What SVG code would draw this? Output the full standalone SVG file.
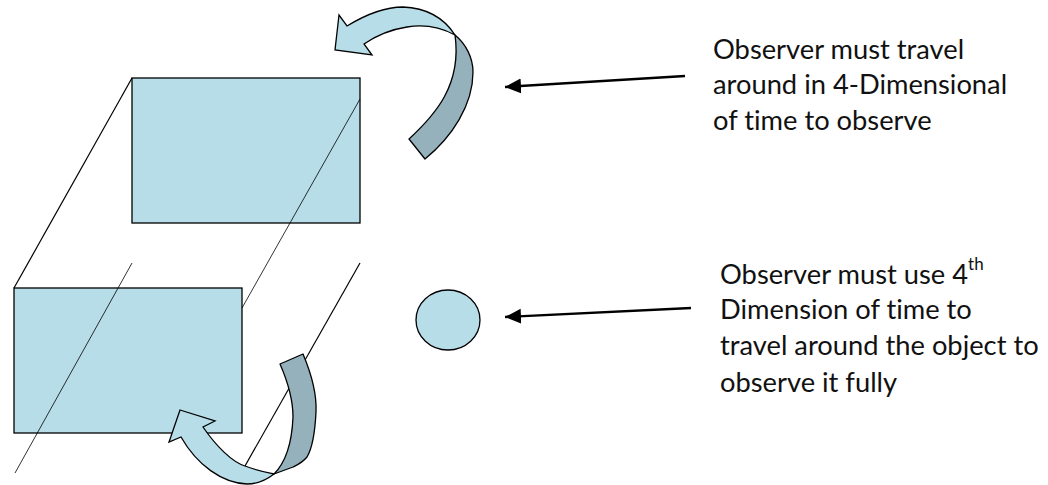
<svg xmlns="http://www.w3.org/2000/svg" width="1048" height="485" viewBox="0 0 1048 485">
<style>
.f{fill:#b7dde8;stroke:#000;stroke-width:1.3}
.d{fill:#95b2bc;stroke:#000;stroke-width:1.3;stroke-linejoin:round}
.l{stroke:#000;stroke-width:1.2;fill:none}
.thin{stroke:#000;stroke-width:.8;fill:none}
.a{stroke:#000;stroke-width:2.4;fill:none;marker-end:url(#h)}
text{font-family:"Lato","Carlito","Liberation Sans",sans-serif;font-size:27.3px;fill:#111;font-variant-ligatures:none}
</style>
<defs><marker id="h" markerUnits="userSpaceOnUse" markerWidth="18" markerHeight="16" refX="16" refY="7.5" orient="auto"><path d="M0 0L16 7.5L0 15z" fill="#000"/></marker></defs>
<g id="connectors">
<path class="l" d="M360 263L245 466"/>
<path class="a" d="M685 76L505 87"/>
<path class="a" d="M691 308L505 317"/>
</g>
<g id="rear-face"><rect class="f" x="132" y="78" width="228" height="145"/></g>
<g id="front-face"><rect class="f" x="14" y="288" width="228" height="145"/></g>
<g id="edges">
<path class="l" d="M132 78L14 288"/>
<path class="thin" d="M360 99L242 308"/>
<path class="thin" d="M132 263L15 473"/>
</g>
<g id="sphere"><ellipse class="f" cx="448" cy="320" rx="32" ry="30"/></g>
<g id="top-arrow">
<path class="d" d="M455 35C466 44 473 58 473 72C473 105 452 137 425 159L409 139C435 115 462 85 455 35Z"/>
<path class="f" d="M339 15L335 50L372 55L364 44C380 33 394 29 407 27C425 24 442 28 455 35C444 18 428 8 403 7C385 7 365 15 347 26Z"/>
</g>
<g id="bottom-arrow">
<path class="d" d="M280 364L303 354C311 373 317 392 316 412C315 432 313 447 307 457C302 463 297 465 293 467L274 474C286 462 292 442 293 417C293 398 287 380 280 364Z"/>
<path class="f" d="M180 410L215 421L203 427C216 446 232 462 245 466C255 470 265 472 274 474C265 481 256 484 247 484C222 483 197 465 181 437L169 442Z"/>
</g>
<g id="label-top">
<text x="713" y="59">Observer must travel</text>
<text x="713" y="94">around in 4-Dimensional</text>
<text x="713" y="130">of time to observe</text>
</g>
<g id="label-bottom">
<text x="720" y="284">Observer must use 4<tspan font-size="17" dy="-14">th</tspan></text>
<text x="720" y="319">Dimension of time to</text>
<text x="720" y="355">travel around the object to</text>
<text x="720" y="392">observe it fully</text>
</g>
</svg>
